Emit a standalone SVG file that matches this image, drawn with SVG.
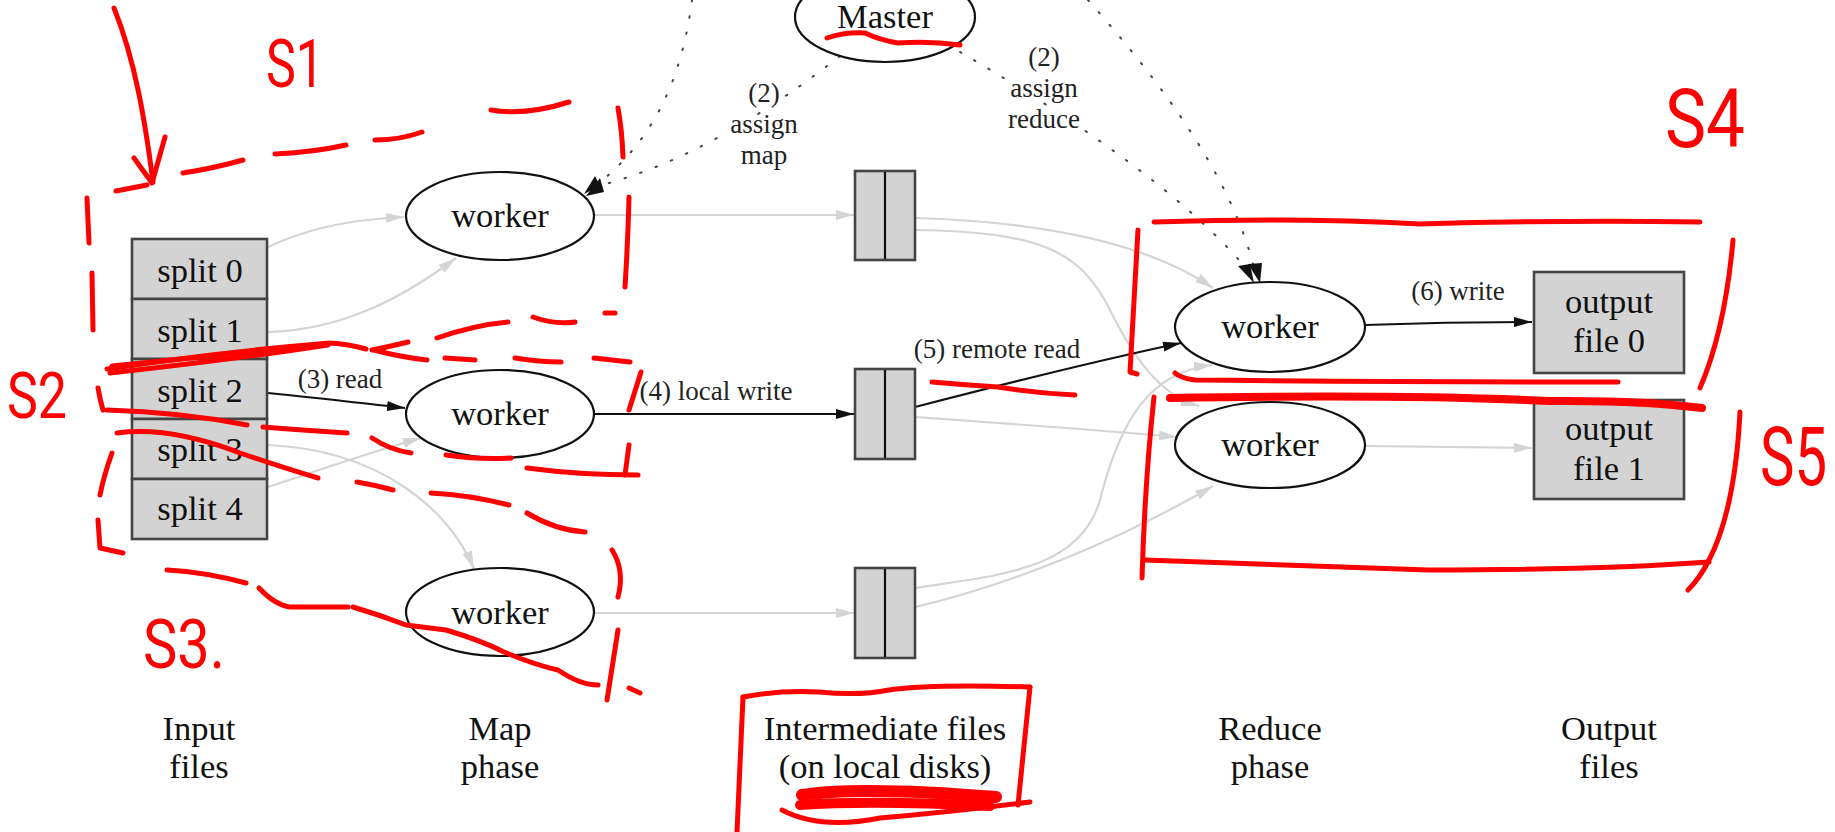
<svg xmlns="http://www.w3.org/2000/svg" width="1835" height="832" viewBox="0 0 1835 832">
  <style>
    .bg { fill: #ffffff; }
    .ell { fill: #ffffff; stroke: #111111; stroke-width: 2.2; }
    .box { fill: #d3d3d3; stroke: #444444; stroke-width: 2.6; }
    .div { stroke: #111111; stroke-width: 2.2; }
    .t { font-family: "Liberation Serif", "Times New Roman", serif; font-size: 34.5px; fill: #111111; text-anchor: middle; }
    .lbl { font-family: "Liberation Serif", "Times New Roman", serif; font-size: 27px; fill: #222222; text-anchor: middle; }
    .halo { stroke: #ffffff; stroke-width: 9px; stroke-linejoin: round; paint-order: stroke; }
    .eb { fill: none; stroke: #111111; stroke-width: 2; marker-end: url(#ab); }
    .eg { fill: none; stroke: #d4d4d4; stroke-width: 2.2; marker-end: url(#ag); }
    .ed { fill: none; stroke: #444444; stroke-width: 2; stroke-dasharray: 1.5 15; stroke-linecap: round; }
    .red { fill: none; stroke: #ff0000; stroke-width: 5; stroke-linecap: round; stroke-linejoin: round; }
    .rt { font-family: "Roboto", "Open Sans", "DejaVu Sans", sans-serif; font-weight: 400; fill: #ff0000; }
  </style>
  <defs>
    <marker id="ab" viewBox="0 0 18 10" refX="18" refY="5" markerWidth="18" markerHeight="10" markerUnits="userSpaceOnUse" orient="auto">
      <path d="M0,0 L18,5 L0,10 z" fill="#111111"/>
    </marker>
    <marker id="ag" viewBox="0 0 18 10" refX="18" refY="5" markerWidth="18" markerHeight="10" markerUnits="userSpaceOnUse" orient="auto">
      <path d="M0,0 L18,5 L0,10 z" fill="#d4d4d4"/>
    </marker>
  </defs>

  <rect class="bg" x="0" y="0" width="1835" height="832"/>

  <!-- connectors -->
  <g id="connectors">
    <!-- input splits to map workers -->
    <path class="eg" d="M268,247 C300,232 340,220 404,217"/>
    <path class="eg" d="M268,332 C340,330 400,300 456,258"/>
    <path class="eb" d="M268,393 C320,398 360,403 405,408"/>
    <path class="eg" d="M268,487 C320,470 370,452 421,438"/>
    <path class="eg" d="M268,445 C380,450 450,510 474,569"/>
    <!-- map workers to intermediate files -->
    <path class="eg" d="M595,215 L854,215"/>
    <path class="eb" d="M595,414 L854,414"/>
    <path class="eg" d="M595,613 L854,613"/>
    <!-- intermediate files to reduce workers -->
    <path class="eg" d="M915,218 C1050,222 1150,245 1213,288"/>
    <path class="eg" d="M915,230 C1040,232 1080,250 1110,310 C1135,360 1160,395 1199,406"/>
    <path class="eb" d="M915,407 C1000,385 1100,360 1181,343"/>
    <path class="eg" d="M915,417 C1000,423 1100,430 1177,437"/>
    <path class="eg" d="M915,588 C1000,575 1080,570 1100,500 C1120,420 1150,372 1212,365"/>
    <path class="eg" d="M915,607 C1010,585 1120,540 1213,486"/>
    <!-- reduce workers to output files -->
    <path class="eb" d="M1365,325 C1420,323 1470,322 1532,322"/>
    <path class="eg" d="M1365,446 L1532,448"/>
    <!-- control edges from above and from the master -->
    <path class="ed" d="M692,0 C684,60 665,130 598,184"/>
    <path class="ed" d="M840,56 C790,95 700,160 598,186"/>
    <path class="ed" d="M960,52 C1060,110 1180,190 1246,268"/>
    <path class="ed" d="M1088,0 C1150,70 1230,170 1254,268"/>
    <path d="M600,178 L586,196 L604,192 z" fill="#111111"/>
    <path d="M595,176 L584,194 L600,186 z" fill="#111111"/>
    <path d="M1238,266 L1254,283 L1250,264 z" fill="#111111"/>
    <path d="M1248,264 L1260,283 L1262,263 z" fill="#111111"/>
  </g>

  <!-- labels on connectors -->
  <g id="edge-labels">
    <text class="lbl" x="340" y="388">(3) read</text>
    <text class="lbl" x="716" y="400">(4) local write</text>
    <text class="lbl" x="997" y="358">(5) remote read</text>
    <text class="lbl" x="1458" y="300">(6) write</text>
    <text class="lbl halo" x="764" y="102">(2)</text>
    <text class="lbl halo" x="764" y="133">assign</text>
    <text class="lbl halo" x="764" y="164">map</text>
    <text class="lbl halo" x="1044" y="66">(2)</text>
    <text class="lbl halo" x="1044" y="97">assign</text>
    <text class="lbl halo" x="1044" y="128">reduce</text>
  </g>

  <!-- master -->
  <g id="master">
    <ellipse class="ell" cx="885" cy="17" rx="90" ry="45"/>
    <text class="t" x="885" y="28">Master</text>
  </g>

  <!-- input splits -->
  <g id="input-splits">
    <rect class="box" x="132" y="239" width="135" height="60"/>
    <rect class="box" x="132" y="299" width="135" height="60"/>
    <rect class="box" x="132" y="359" width="135" height="60"/>
    <rect class="box" x="132" y="419" width="135" height="60"/>
    <rect class="box" x="132" y="479" width="135" height="60"/>
    <text class="t" x="200" y="282">split 0</text>
    <text class="t" x="200" y="342">split 1</text>
    <text class="t" x="200" y="402">split 2</text>
    <text class="t" x="200" y="461">split 3</text>
    <text class="t" x="200" y="520">split 4</text>
  </g>

  <!-- map workers -->
  <g id="map-worker-0">
    <ellipse class="ell" cx="500" cy="216" rx="94" ry="44"/>
    <text class="t" x="500" y="227">worker</text>
  </g>
  <g id="map-worker-1">
    <ellipse class="ell" cx="500" cy="414" rx="94" ry="44"/>
    <text class="t" x="500" y="425">worker</text>
  </g>
  <g id="map-worker-2">
    <ellipse class="ell" cx="500" cy="612" rx="94" ry="44"/>
    <text class="t" x="500" y="624">worker</text>
  </g>

  <!-- intermediate files -->
  <g id="inter-0">
    <rect class="box" x="855" y="171" width="60" height="89"/>
    <line class="div" x1="885" y1="172" x2="885" y2="259"/>
  </g>
  <g id="inter-1">
    <rect class="box" x="855" y="369" width="60" height="90"/>
    <line class="div" x1="885" y1="370" x2="885" y2="458"/>
  </g>
  <g id="inter-2">
    <rect class="box" x="855" y="568" width="60" height="90"/>
    <line class="div" x1="885" y1="569" x2="885" y2="657"/>
  </g>

  <!-- reduce workers -->
  <g id="reduce-worker-0">
    <ellipse class="ell" cx="1270" cy="327" rx="95" ry="45"/>
    <text class="t" x="1270" y="338">worker</text>
  </g>
  <g id="reduce-worker-1">
    <ellipse class="ell" cx="1270" cy="445" rx="95" ry="43"/>
    <text class="t" x="1270" y="456">worker</text>
  </g>

  <!-- output files -->
  <g id="output-0">
    <rect class="box" x="1534" y="272" width="150" height="101"/>
    <text class="t" x="1609" y="313">output</text>
    <text class="t" x="1609" y="352">file 0</text>
  </g>
  <g id="output-1">
    <rect class="box" x="1534" y="400" width="150" height="99"/>
    <text class="t" x="1609" y="440">output</text>
    <text class="t" x="1609" y="480">file 1</text>
  </g>

  <!-- column captions -->
  <g id="captions">
    <text class="t" x="199" y="740">Input</text>
    <text class="t" x="199" y="778">files</text>
    <text class="t" x="500" y="740">Map</text>
    <text class="t" x="500" y="778">phase</text>
    <text class="t" x="885" y="740">Intermediate files</text>
    <text class="t" x="885" y="778">(on local disks)</text>
    <text class="t" x="1270" y="740">Reduce</text>
    <text class="t" x="1270" y="778">phase</text>
    <text class="t" x="1609" y="740">Output</text>
    <text class="t" x="1609" y="778">files</text>
  </g>

  <!-- hand-drawn red markup -->
  <g id="markup">
    <!-- arrow -->
    <path class="red" d="M114,8 C135,60 145,120 153,182"/>
    <path class="red" d="M134,158 L152,183 L165,137"/>
    <text class="rt" x="266" y="87" font-size="66" textLength="58" lengthAdjust="spacingAndGlyphs">S1</text>

    <!-- S1 region -->
    <path class="red" d="M116,191 L147,185"/>
    <path class="red" d="M183,173 Q215,168 243,160"/>
    <path class="red" d="M275,154 Q315,152 346,145"/>
    <path class="red" d="M375,140 Q400,140 422,132"/>
    <path class="red" d="M491,110 Q525,116 569,102"/>
    <path class="red" d="M87,198 L89,243"/>
    <path class="red" d="M92,273 L93,330"/>
    <path class="red" d="M618,108 Q622,130 623,157"/>
    <path class="red" d="M629,197 Q628,240 625,287"/>
    <path class="red" d="M437,338 Q475,325 508,322"/>
    <path class="red" d="M533,317 Q555,325 575,322"/>
    <path class="red" d="M605,313 L615,313"/>

    <!-- S2 region -->
    <path class="red" d="M107,369 Q220,352 330,343 Q348,344 366,349"/>
    <path class="red" d="M110,373 Q230,360 328,345"/>
    <path class="red" d="M112,366 Q210,356 310,346"/>
    <path class="red" d="M372,350 Q392,346 408,342"/>
    <path class="red" d="M374,350 Q400,357 427,360"/>
    <path class="red" d="M445,358 L475,360"/>
    <path class="red" d="M515,358 Q540,362 561,362"/>
    <path class="red" d="M594,358 Q612,360 630,362"/>
    <path class="red" d="M98,388 Q100,400 103,410"/>
    <path class="red" d="M107,410 Q180,412 247,425"/>
    <path class="red" d="M263,427 Q300,430 347,433"/>
    <path class="red" d="M372,438 Q390,450 411,453"/>
    <path class="red" d="M446,455 Q480,460 511,458"/>
    <path class="red" d="M527,468 Q580,475 638,475"/>
    <path class="red" d="M629,445 L625,475"/>
    <path class="red" d="M641,372 L629,410"/>
    <text class="rt" x="7" y="418" font-size="64" textLength="60" lengthAdjust="spacingAndGlyphs">S2</text>

    <!-- S3 region -->
    <path class="red" d="M117,433 Q170,426 240,453 Q290,470 318,478"/>
    <path class="red" d="M357,482 Q375,485 393,490"/>
    <path class="red" d="M431,493 Q470,495 509,505"/>
    <path class="red" d="M527,513 Q555,530 585,532"/>
    <path class="red" d="M112,453 Q104,475 100,495"/>
    <path class="red" d="M98,520 L100,548 L123,553"/>
    <path class="red" d="M167,570 Q205,572 246,583"/>
    <path class="red" d="M259,588 Q275,605 290,607 L348,607"/>
    <path class="red" d="M353,607 Q380,615 406,625 Q430,628 446,630 Q480,640 504,652 Q535,665 558,670 Q580,685 598,685"/>
    <path class="red" d="M612,550 Q625,570 618,597"/>
    <path class="red" d="M618,630 L607,700"/>
    <path class="red" d="M629,688 L640,693"/>
    <text class="rt" x="143" y="668" font-size="68" textLength="82" lengthAdjust="spacingAndGlyphs">S3.</text>

    <!-- S4 region -->
    <path class="red" d="M1154,222 Q1300,217 1420,224 Q1560,220 1700,222"/>
    <path class="red" d="M1138,230 L1130,372 L1137,374"/>
    <path class="red" d="M1733,240 Q1725,330 1700,388"/>
    <path class="red" d="M1175,373 Q1180,378 1195,380 Q1400,382 1618,382"/>
    <text class="rt" x="1665" y="147" font-size="82" textLength="80" lengthAdjust="spacingAndGlyphs">S4</text>

    <!-- S5 region -->
    <path class="red" style="stroke-width:8" d="M1170,398 Q1400,394 1550,401 Q1640,400 1702,408"/>
    <path class="red" d="M1154,397 Q1145,480 1142,578"/>
    <path class="red" d="M1145,560 Q1300,565 1428,570 Q1600,570 1709,562"/>
    <path class="red" d="M1740,412 Q1735,510 1709,560 Q1700,578 1688,590"/>
    <text class="rt" transform="translate(1760,485) scale(1,1.4)" x="0" y="0" font-size="58">S5</text>

    <!-- underlines -->
    <path class="red" d="M827,38 Q845,32 865,33 Q880,40 898,43 Q930,41 960,45"/>
    <path class="red" d="M932,382 Q965,385 998,387 Q1035,393 1075,395"/>

    <!-- caption box and scribble -->
    <path class="red" d="M743,697 L737,832"/>
    <path class="red" d="M743,697 Q780,690 819,692 Q860,696 889,690 Q930,684 1030,687"/>
    <path class="red" d="M1030,687 L1018,805"/>
    <path class="red" style="stroke-width:12" d="M802,795 Q860,786 996,797"/>
    <path class="red" style="stroke-width:10" d="M800,805 Q870,800 990,806"/>
    <path class="red" d="M782,810 Q820,830 880,818 Q950,812 1030,802"/>
  </g>
</svg>
